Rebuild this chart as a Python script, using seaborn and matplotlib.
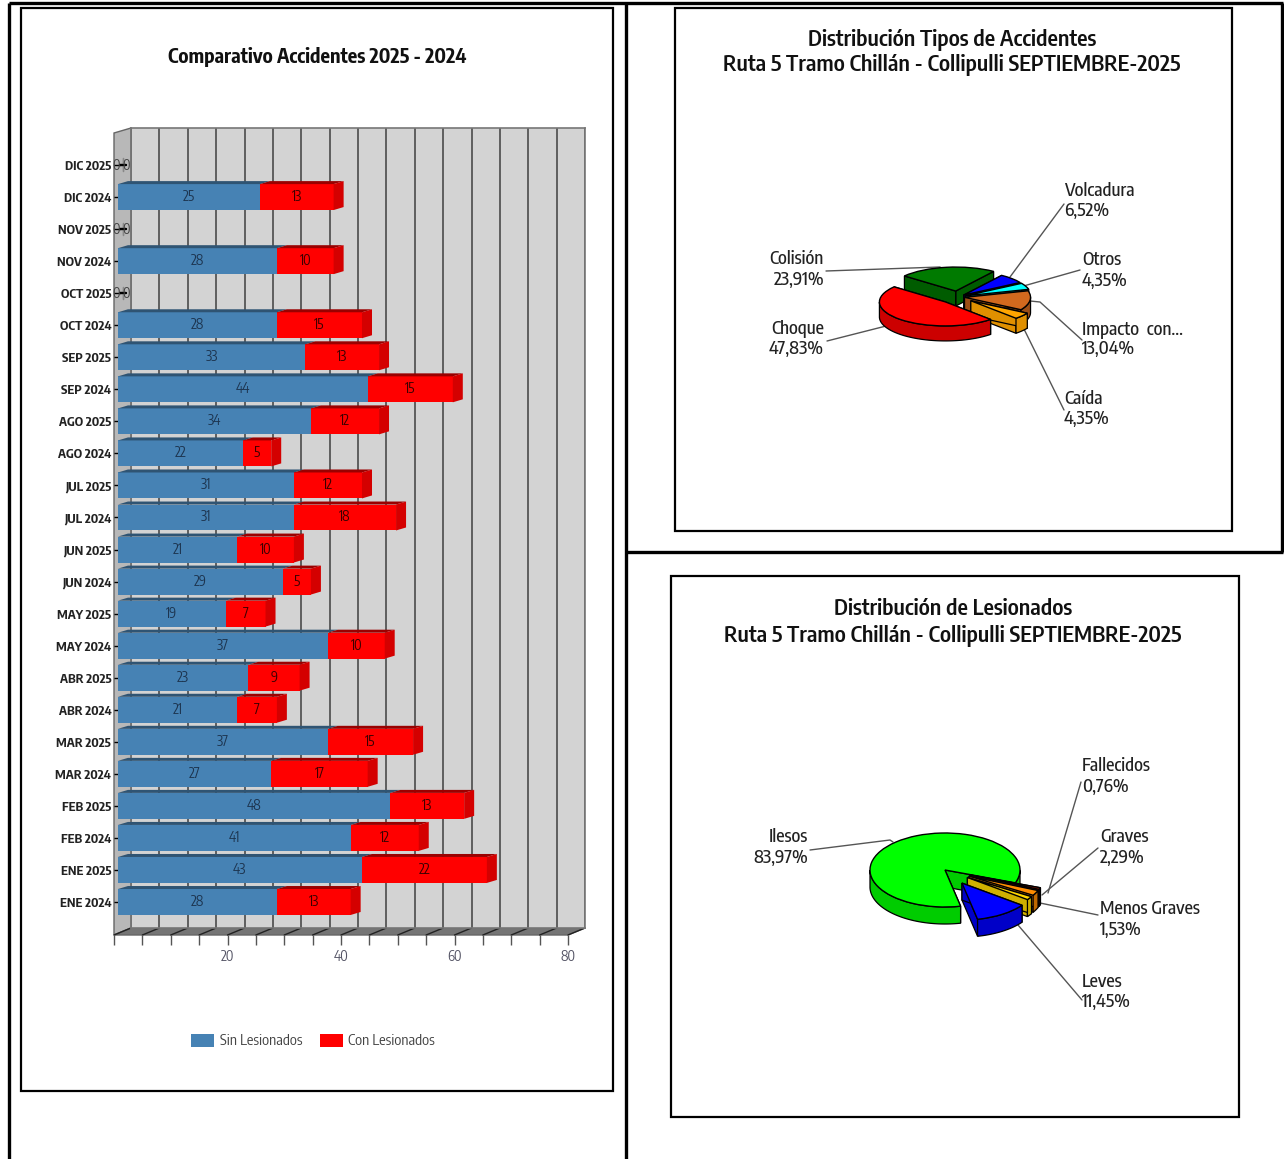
import numpy as np
import pandas as pd
import matplotlib
matplotlib.use("Agg")
import matplotlib.pyplot as plt
from matplotlib.patches import Polygon, Rectangle
from matplotlib.ticker import MultipleLocator
import seaborn as sns

W, H = 1284, 1159

# barras: de arriba hacia abajo
meses = ["DIC 2025", "DIC 2024", "NOV 2025", "NOV 2024", "OCT 2025", "OCT 2024",
         "SEP 2025", "SEP 2024", "AGO 2025", "AGO 2024", "JUL 2025", "JUL 2024",
         "JUN 2025", "JUN 2024", "MAY 2025", "MAY 2024", "ABR 2025", "ABR 2024",
         "MAR 2025", "MAR 2024", "FEB 2025", "FEB 2024", "ENE 2025", "ENE 2024"]
sin_lesionados = [0, 25, 0, 28, 0, 28, 33, 44, 34, 22, 31, 31,
                  21, 29, 19, 37, 23, 21, 37, 27, 48, 41, 43, 28]
con_lesionados = [0, 13, 0, 10, 0, 15, 13, 15, 12, 5, 12, 18,
                  10, 5, 7, 10, 9, 7, 15, 17, 13, 12, 22, 13]

# tortas
tipos = ["Colisión", "Volcadura", "Otros", "Impacto  con...", "Caída", "Choque"]
tipos_pct = [23.91, 6.52, 4.35, 13.04, 4.35, 47.83]
tipos_col = ["#007a00", "#0000ff", "#00ffff", "#d2691e", "#ffa500", "#ff0000"]
tipos_lado = ["#005c00", "#0000b0", "#00b0b0", "#9c4e16", "#e09000", "#cc0000"]

lesion = ["Ilesos", "Fallecidos", "Graves", "Menos Graves", "Leves"]
lesion_pct = [83.97, 0.76, 2.29, 1.53, 11.45]
lesion_col = ["#00ff00", "#cc2200", "#ff8c00", "#ffd700", "#0000ff"]
lesion_lado = ["#00cc00", "#801500", "#c06800", "#d0b000", "#0000c8"]

sns.set_theme(style="white")
plt.rcParams["font.family"] = ["Encode Sans Condensed", "Liberation Sans", "DejaVu Sans"]

fig = plt.figure(figsize=(W / 100, H / 100), dpi=100, facecolor="white")


def px_axes(x0, y0, x1, y1):
    return fig.add_axes([x0 / W, 1 - y1 / H, (x1 - x0) / W, (y1 - y0) / H])


# capa de fondo en pixeles: marcos, paredes y textos
bg = fig.add_axes([0, 0, 1, 1])
bg.set_xlim(0, W)
bg.set_ylim(H, 0)
bg.axis("off")

for x0, y0, x1, y1 in [(21, 8, 613, 1091), (675, 8, 1232, 531), (671, 576, 1239, 1117)]:
    bg.add_patch(Rectangle((x0, y0), x1 - x0, y1 - y0, fill=False, ec="black", lw=1.6))
for xs, ys in [((9, 9), (3, 1159)), ((9, 1283), (3, 3)), ((625.5, 625.5), (3, 1159)),
               ((625, 1283), (552, 552)), ((1282, 1282), (3, 552))]:
    bg.plot(xs, ys, color="black", lw=2.4, solid_capstyle="butt")

# pared del fondo
wall = px_axes(131, 128, 585, 928)
wall.set_facecolor("#d3d3d3")
wall.set_xlim(0, 80)
wall.set_yticks([])
wall.xaxis.set_major_locator(MultipleLocator(5))
wall.tick_params(labelbottom=False, length=0)
wall.grid(axis="x", color="#555555", lw=1.3)
for s in wall.spines.values():
    s.set_color("#777777")
    s.set_linewidth(1.2)

# pared lateral y piso
bg.add_patch(Polygon([(114, 133), (131, 128), (131, 928), (114, 935)], fc="#b8b8b8", ec="#666666", lw=1))
bg.add_patch(Polygon([(114, 935), (131, 928), (585, 928), (568, 935)], fc="#757575", ec="#666666", lw=1))
for i in range(17):
    x = 114 + i * 28.375
    bg.plot([x, x + 17], [935, 928], color="#222222", lw=1)

# barras
ax = px_axes(114, 133, 568, 935)
ax.patch.set_visible(False)
df = pd.DataFrame({"mes": meses, "sin": sin_lesionados, "con": con_lesionados})
base = 0.7
sns.barplot(data=df, x="sin", y="mes", orient="y", color="#4682b4", saturation=1,
            width=0.81, left=base, linewidth=0, ax=ax, legend=False)
sns.barplot(data=df, x="con", y="mes", orient="y", color="#ff0000", saturation=1,
            width=0.81, left=df["sin"].to_numpy() + base, linewidth=0, ax=ax, legend=False)
ax.set_xlim(0, 80)
ax.set_ylim(24.03, -1)
ax.set_xlabel("")
ax.set_ylabel("")
for s in ax.spines.values():
    s.set_visible(False)
ax.xaxis.set_major_locator(MultipleLocator(20))
ax.xaxis.set_minor_locator(MultipleLocator(5))
ax.tick_params(axis="x", which="both", bottom=True, length=7.5, width=1, color="#555555")
ax.tick_params(axis="x", labelsize=10, labelcolor="#555566", pad=3)
ax.set_xticks([20, 40, 60, 80])
ax.tick_params(axis="y", left=True, length=4, width=1, direction="in", color="black",
               labelsize=9.2, pad=2)
for lab in ax.get_yticklabels():
    lab.set_fontweight("bold")
    lab.set_color("#222222")

# caras 3D de cada barra
dx = 10 / 5.675
dy = 3 / 32.04
azul, rojo = ax.containers[0], ax.containers[1]
for cont, top_col in [(azul, "#2f5473"), (rojo, "#9a0000")]:
    for b in cont:
        x0, w, y0 = b.get_x(), b.get_width(), b.get_y()
        x1 = x0 + w
        if w > 0:
            ax.add_patch(Polygon([(x0, y0), (x0 + dx, y0 - dy), (x1 + dx, y0 - dy), (x1, y0)],
                                 fc=top_col, ec="none", zorder=2))
        else:
            # barra en cero: solo queda la marca de profundidad
            ax.plot([x0 + dx / 2, x0 + dx / 2], [y0 + 0.2, y0 + 0.6], color="#888888", lw=1, zorder=3)
            ax.plot([x0 + 0.4, x0 + dx - 0.4], [y0 + 0.4, y0 + 0.4], color="black", lw=1.6, zorder=3)
for b in rojo:
    x1 = b.get_x() + b.get_width()
    y0, h = b.get_y(), b.get_height()
    if b.get_width() > 0:
        ax.add_patch(Polygon([(x1, y0), (x1 + dx, y0 - dy), (x1 + dx, y0 + h - dy), (x1, y0 + h)],
                             fc="#d40000", ec="none", zorder=2))

for cont, col, shift in [(azul, "#1d3550", -1), (rojo, "#3a0000", 6)]:
    labels = ax.bar_label(cont, label_type="center", fontsize=10, color=col)
    for t, b in zip(labels, cont):
        if b.get_width() == 0:
            # bar_label coloca el texto con un desplazamiento en puntos
            t.xyann = (shift, -0.5)
            t.set_color("#444444")

leg = fig.legend(handles=[azul, rojo], labels=["Sin Lesionados", "Con Lesionados"], ncol=2,
                 loc="center", bbox_to_anchor=(313 / W, 1 - 1041 / H), frameon=False,
                 fontsize=10.6, handlelength=1.56, handleheight=1.0, handletextpad=0.36,
                 columnspacing=1.2, labelcolor="#444444")


def draw_pie(cx, cy, rx, ry, depth, values, colors, sides, start, explode):
    pie = fig.add_axes([(cx - 1.25 * rx) / W, 1 - (cy + 1.25 * ry) / H, 2.5 * rx / W, 2.5 * ry / H])
    wedges, _ = pie.pie(values, colors=colors, startangle=start, counterclock=False,
                        explode=explode, wedgeprops=dict(edgecolor="black", linewidth=1))
    pie.set_aspect("auto")
    pie.set_xlim(-1.25, 1.25)
    pie.set_ylim(-1.25, 1.25)
    pie.patch.set_visible(False)
    dz = depth / ry
    # las porciones de atras se dibujan primero
    mids = [np.sin(np.radians((w.theta1 + w.theta2) / 2)) for w in wedges]
    z = 2
    for k in np.argsort(mids)[::-1]:
        w = wedges[k]
        c = np.array(w.center)
        style = dict(fc=sides[k], ec="black", lw=0.9, clip_on=False)
        for t in (w.theta1, w.theta2):
            e = c + w.r * np.array([np.cos(np.radians(t)), np.sin(np.radians(t))])
            pie.add_patch(Polygon([c, e, e - [0, dz], c - [0, dz]], zorder=z, **style))
        ts = np.radians(np.linspace(w.theta1, w.theta2, 200))
        vis = np.sin(ts) <= 0
        edges = np.flatnonzero(np.diff(np.r_[0, vis.astype(int), 0]))
        for a, b in zip(edges[::2], edges[1::2]):
            arc = np.c_[c[0] + w.r * np.cos(ts[a:b]), c[1] + w.r * np.sin(ts[a:b])]
            low = arc[::-1] - [0, dz]
            pie.add_patch(Polygon(np.r_[arc, low], zorder=z + 1, **style))
        w.set_zorder(z + 2)
        w.set_clip_on(False)
        z += 3


draw_pie(958, 297, 66, 24, 15, tipos_pct, tipos_col, tipos_lado, 141, [0.25, 0.12, 0.12, 0.1, 0.25, 0.28])
draw_pie(945, 870, 75, 37, 17, lesion_pct, lesion_col, lesion_lado, -78, [0, 0.36, 0.36, 0.36, 0.42])

# textos
bg.text(317, 57, "Comparativo Accidentes 2025 - 2024", ha="center", va="center",
        fontsize=14.3, fontweight="bold", color="#111111")
for x, y, s in [(952, 40, "Distribución Tipos de Accidentes"),
                (952, 65, "Ruta 5 Tramo Chillán - Collipulli SEPTIEMBRE-2025"),
                (953, 609, "Distribución de Lesionados"),
                (953, 636, "Ruta 5 Tramo Chillán - Collipulli SEPTIEMBRE-2025")]:
    bg.text(x, y, s, ha="center", va="center", fontsize=16, color="#111111", fontweight=600)

rotulos = [
    (824, 259, 280, "right", tipos[0], tipos_pct[0], [(826, 271), (940, 267), (943, 270)]),
    (1064, 191, 211, "left", tipos[1], tipos_pct[1], [(1064, 204), (1010, 277)]),
    (1082, 260, 281, "left", tipos[2], tipos_pct[2], [(1080, 270), (1020, 287)]),
    (1082, 330, 349, "left", tipos[3], tipos_pct[3], [(1082, 340), (1040, 302), (1030, 301)]),
    (1064, 399, 419, "left", tipos[4], tipos_pct[4], [(1064, 410), (1022, 325)]),
    (824, 329, 349, "right", tipos[5], tipos_pct[5], [(827, 341), (890, 325)]),
    (808, 837, 858, "right", lesion[0], lesion_pct[0], [(810, 850), (890, 840), (893, 842)]),
    (1082, 766, 787, "left", lesion[1], lesion_pct[1], [(1081, 782), (1048, 893)]),
    (1100, 837, 858, "left", lesion[2], lesion_pct[2], [(1098, 848), (1042, 895)]),
    (1100, 909, 930, "left", lesion[3], lesion_pct[3], [(1098, 915), (1040, 903)]),
    (1082, 982, 1002, "left", lesion[4], lesion_pct[4], [(1082, 1000), (1018, 925)]),
]
for x, y1, y2, ha, nombre, pct, linea in rotulos:
    bg.text(x, y1, nombre, ha=ha, va="center", fontsize=13, color="#222222", fontweight=500)
    bg.text(x, y2, f"{pct:.2f}%".replace(".", ","), ha=ha, va="center", fontsize=13, color="#222222", fontweight=500)
    bg.plot(*zip(*linea), color="#555555", lw=1)

fig.savefig("out.png", dpi=100)
